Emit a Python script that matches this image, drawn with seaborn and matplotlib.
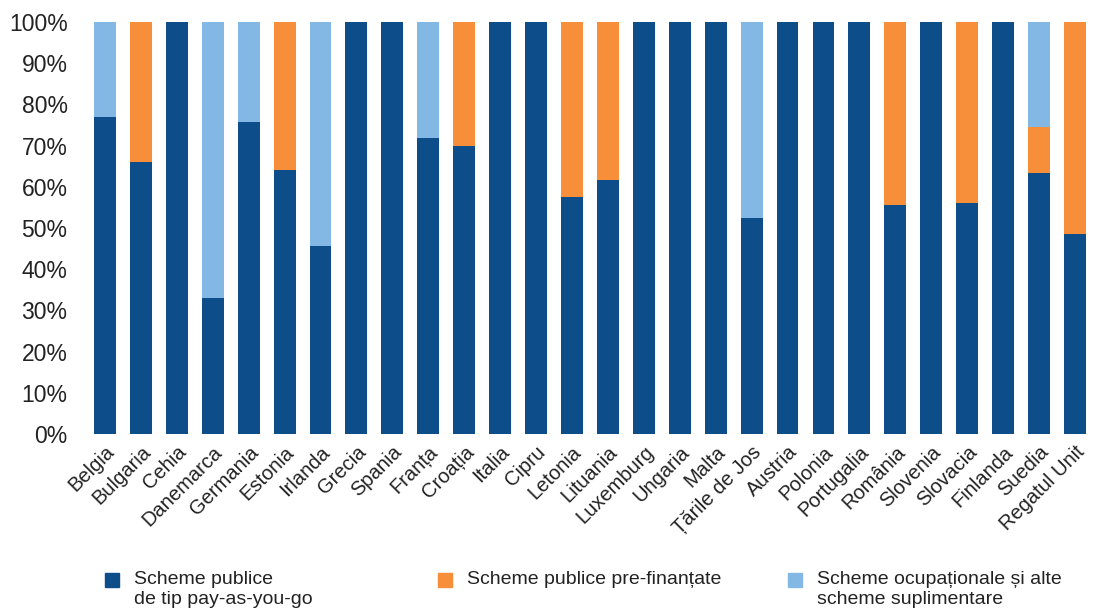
import matplotlib
matplotlib.use("Agg")
import matplotlib.pyplot as plt
from matplotlib.patches import Rectangle
from matplotlib.ticker import FuncFormatter
import numpy as np
import pandas as pd
import seaborn as sns

# share of pension spending by type of scheme, per country (%)
countries = ["Belgia", "Bulgaria", "Cehia", "Danemarca", "Germania", "Estonia", "Irlanda",
             "Grecia", "Spania", "Franța", "Croația", "Italia", "Cipru", "Letonia",
             "Lituania", "Luxemburg", "Ungaria", "Malta", "Țările de Jos", "Austria",
             "Polonia", "Portugalia", "România", "Slovenia", "Slovacia", "Finlanda",
             "Suedia", "Regatul Unit"]
payg = [77.0, 66.0, 100, 33.0, 75.7, 64.1, 45.6, 100, 100, 71.8, 69.9, 100, 100, 57.5,
        61.7, 100, 100, 100, 52.4, 100, 100, 100, 55.6, 100, 56.1, 100, 63.3, 48.5]
prefunded = [0, 34.0, 0, 0, 0, 35.9, 0, 0, 0, 0, 30.1, 0, 0, 42.5,
             38.3, 0, 0, 0, 0, 0, 0, 0, 44.4, 0, 43.9, 0, 11.2, 51.5]
occupational = [23.0, 0, 0, 67.0, 24.3, 0, 54.4, 0, 0, 28.2, 0, 0, 0, 0,
                0, 0, 0, 0, 47.6, 0, 0, 0, 0, 0, 0, 0, 25.5, 0]

legend_labels = ["Scheme publice\nde tip pay-as-you-go",
                 "Scheme publice pre-finanțate",
                 "Scheme ocupaționale și alte\nscheme suplimentare"]
colors = ["#0D4D8A", "#F68E3A", "#82B8E3"]

df = pd.DataFrame({"country": countries, "payg": payg,
                   "prefunded": prefunded, "occupational": occupational})
df["c1"] = df["payg"]
df["c2"] = df["c1"] + df["prefunded"]
df["c3"] = df["c2"] + df["occupational"]

sns.set_style("white")
plt.rcParams["font.family"] = ["Liberation Sans", "DejaVu Sans"]

fig = plt.figure(figsize=(10.94, 6.10), dpi=100)
ax = fig.add_axes([0.0795, 0.2885, 0.9195, 0.6755])

# stacked bars drawn as overlapping cumulative totals
for col, c in zip(["c3", "c2", "c1"], colors[::-1]):
    sns.barplot(data=df, x="country", y=col, color=c, saturation=1,
                width=0.61, ax=ax, errorbar=None, linewidth=0)

ax.set_xlim(-0.5, len(countries) - 0.5)
ax.set_ylim(0, 100)
ax.set_yticks(np.arange(0, 101, 10))
ax.yaxis.set_major_formatter(FuncFormatter(lambda v, p: f"{v:.0f}%"))
ax.set_xlabel("")
ax.set_ylabel("")
ax.tick_params(axis="y", labelsize=16.5, length=0, pad=14, labelcolor="#222222")
ax.tick_params(axis="x", length=0, pad=6, labelcolor="#222222")
ax.set_xticks(range(len(countries)))
ax.set_xticklabels(countries, rotation=45, ha="right", va="top",
                   rotation_mode="anchor", fontsize=14.5)
for s in ax.spines.values():
    s.set_visible(False)

# legend at the bottom
leg_x = [105, 438, 788]
for x0, lab, c in zip(leg_x, legend_labels, colors):
    fig.add_artist(Rectangle((x0 / 1094, 1 - 587 / 610), 14 / 1094, 14 / 610,
                             transform=fig.transFigure, color=c))
    fig.text((x0 + 29) / 1094, 1 - 571 / 610, lab, fontsize=14, va="top",
             ha="left", color="#222222", linespacing=1.2)

plt.savefig("out.png", dpi=100)
